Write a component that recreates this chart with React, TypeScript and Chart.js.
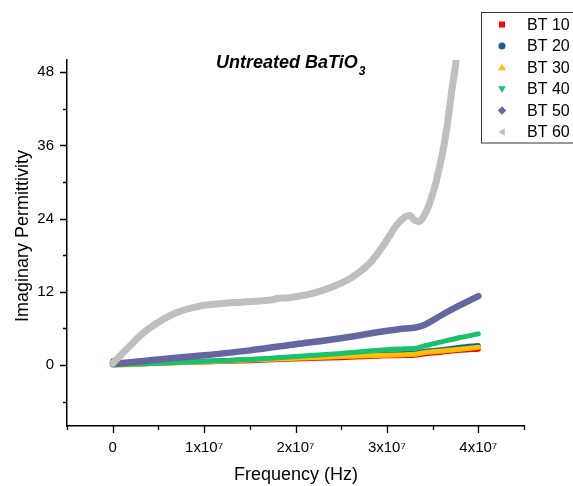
import React, { useEffect, useRef } from 'react';
import { Chart, registerables } from 'chart.js';

Chart.register(...registerables);

// ---- data (frequency in MHz, i.e. x 1e6 Hz) ----
const LOW_FREQ_MHZ = [0, 0.5, 5, 10, 15, 20, 25, 30, 32, 33, 34, 36, 38, 40];
const BT10 = [0.7, 0.1, 0.3, 0.5, 0.7, 1.0, 1.2, 1.5, 1.55, 1.6, 1.8, 2.1, 2.4, 2.6];
const BT20 = [0.1, 0.1, 0.4, 0.6, 0.9, 1.2, 1.5, 1.8, 1.9, 1.95, 2.2, 2.5, 2.9, 3.2];
const BT30 = [0.0, 0.0, 0.3, 0.5, 0.8, 1.1, 1.4, 1.6, 1.7, 1.75, 2.0, 2.3, 2.6, 2.9];
const BT40 = [0.0, 0.05, 0.3, 0.6, 0.9, 1.4, 1.9, 2.5, 2.65, 2.7, 3.1, 3.8, 4.5, 5.1];
const BT50 = [0.2, 0.25, 0.9, 1.6, 2.4, 3.4, 4.4, 5.6, 6.0, 6.1, 6.5, 8.2, 9.8, 11.3];

const BT60_FREQ_MHZ = [0, 1, 2, 3, 4, 5, 6, 7, 8, 9, 10, 12, 14, 16, 17.5, 18, 19, 20, 22, 24, 26, 28, 29, 30, 31, 32, 32.5, 33, 33.5, 34, 34.5, 35, 35.3, 35.6, 35.9, 36.2, 36.5, 36.8, 37.1, 37.4, 37.6];
const BT60 = [0.3, 1.8, 3.3, 4.8, 6.0, 7.0, 7.9, 8.6, 9.1, 9.5, 9.8, 10.1, 10.3, 10.5, 10.7, 10.9, 11.0, 11.2, 11.8, 12.8, 14.2, 16.5, 18.3, 20.5, 22.8, 24.3, 24.5, 23.8, 23.5, 24.3, 25.8, 28.0, 29.5, 31.4, 33.4, 35.6, 38.3, 41.5, 45.0, 48.0, 50.0];

const SERIES_NAMES = ['BT 10', 'BT 20', 'BT 30', 'BT 40', 'BT 50', 'BT 60'];
const SERIES_COLORS = ['#ff0000', '#1f5c99', '#ffc000', '#17c26b', '#65659f', '#bfbfbf'];
const SERIES_MARKERS = ['square', 'circle', 'triUp', 'triDown', 'diamond', 'triLeft'];

const X_MAJOR = [0, 1e7, 2e7, 3e7, 4e7];
const X_TICK_LABELS = ['0', '1x10⁷', '2x10⁷', '3x10⁷', '4x10⁷'];
const X_MINOR = [-0.5e7, 0.5e7, 1.5e7, 2.5e7, 3.5e7, 4.5e7];
const Y_MAJOR = [0, 12, 24, 36, 48];
const Y_MINOR = [-6, 6, 18, 30, 42];

const TITLE_MAIN = 'Untreated BaTiO';
const TITLE_SUB = '3';
const X_TITLE = 'Frequency (Hz)';
const Y_TITLE = 'Imaginary Permittivity';

const FONT = "'Liberation Sans', Arial, sans-serif";

function toPoints(freqMHz: number[], vals: number[]) {
  return freqMHz.map((f, i) => ({ x: f * 1e6, y: vals[i] }));
}

function drawMarker(ctx: CanvasRenderingContext2D, kind: string, x: number, y: number, r: number) {
  ctx.beginPath();
  if (kind === 'square') {
    ctx.rect(x - r * 0.85, y - r * 0.85, r * 1.7, r * 1.7);
  } else if (kind === 'circle') {
    ctx.arc(x, y, r, 0, Math.PI * 2);
  } else if (kind === 'triUp') {
    ctx.moveTo(x, y - r * 1.1);
    ctx.lineTo(x + r * 1.1, y + r * 0.8);
    ctx.lineTo(x - r * 1.1, y + r * 0.8);
  } else if (kind === 'triDown') {
    ctx.moveTo(x, y + r * 1.1);
    ctx.lineTo(x + r * 1.1, y - r * 0.8);
    ctx.lineTo(x - r * 1.1, y - r * 0.8);
  } else if (kind === 'diamond') {
    ctx.moveTo(x, y - r * 1.2);
    ctx.lineTo(x + r * 1.2, y);
    ctx.lineTo(x, y + r * 1.2);
    ctx.lineTo(x - r * 1.2, y);
  } else {
    ctx.moveTo(x - r * 1.1, y);
    ctx.lineTo(x + r * 0.8, y - r * 1.1);
    ctx.lineTo(x + r * 0.8, y + r * 1.1);
  }
  ctx.closePath();
  ctx.fill();
}

const decorPlugin = {
  id: 'decor',
  afterDraw(chart: any) {
    const ctx: CanvasRenderingContext2D = chart.ctx;
    const xs = chart.scales.x;
    const ys = chart.scales.y;
    const area = chart.chartArea;
    ctx.save();
    // ticks
    ctx.strokeStyle = '#000';
    ctx.lineWidth = 1.3;
    ctx.beginPath();
    X_MAJOR.forEach((v) => {
      const px = Math.round(xs.getPixelForValue(v)) + 0.5;
      ctx.moveTo(px, area.bottom);
      ctx.lineTo(px, area.bottom + 7);
    });
    X_MINOR.forEach((v) => {
      const px = Math.round(xs.getPixelForValue(v)) + 0.5;
      ctx.moveTo(px, area.bottom);
      ctx.lineTo(px, area.bottom + 4);
    });
    Y_MAJOR.forEach((v) => {
      const py = Math.round(ys.getPixelForValue(v)) + 0.5;
      ctx.moveTo(area.left, py);
      ctx.lineTo(area.left - 7, py);
    });
    Y_MINOR.forEach((v) => {
      const py = Math.round(ys.getPixelForValue(v)) + 0.5;
      ctx.moveTo(area.left, py);
      ctx.lineTo(area.left - 4, py);
    });
    ctx.stroke();

    // title
    ctx.fillStyle = '#000';
    ctx.textBaseline = 'alphabetic';
    ctx.textAlign = 'left';
    ctx.font = `italic bold 18px ${FONT}`;
    ctx.fillText(TITLE_MAIN, 216, 68);
    const w = ctx.measureText(TITLE_MAIN).width;
    ctx.font = `italic bold 12px ${FONT}`;
    ctx.fillText(TITLE_SUB, 216 + w + 1, 75);

    // axis titles
    ctx.font = `18px ${FONT}`;
    ctx.textAlign = 'center';
    ctx.textBaseline = 'middle';
    ctx.fillText(X_TITLE, 296, 475);
    ctx.save();
    ctx.translate(23, 236);
    ctx.rotate(-Math.PI / 2);
    ctx.fillText(Y_TITLE, 0, 0);
    ctx.restore();

    // legend
    ctx.strokeStyle = '#333';
    ctx.lineWidth = 1;
    ctx.strokeRect(481.5, 12.5, 200, 130.5);
    ctx.font = `16px ${FONT}`;
    ctx.textAlign = 'left';
    ctx.textBaseline = 'middle';
    SERIES_NAMES.forEach((name, i) => {
      const y = 24.5 + i * 21.5;
      ctx.fillStyle = SERIES_COLORS[i];
      drawMarker(ctx, SERIES_MARKERS[i], 502, y, 3.5);
      ctx.fillStyle = '#000';
      ctx.fillText(name, 527, y + 1);
    });
    ctx.restore();
  },
};

export default function App() {
  const canvasRef = useRef<HTMLCanvasElement | null>(null);
  useEffect(() => {
    const canvas = canvasRef.current;
    if (!canvas) return;
    const dataArrays = [
      toPoints(LOW_FREQ_MHZ, BT10),
      toPoints(LOW_FREQ_MHZ, BT20),
      toPoints(LOW_FREQ_MHZ, BT30),
      toPoints(LOW_FREQ_MHZ, BT40),
      toPoints(LOW_FREQ_MHZ, BT50),
      toPoints(BT60_FREQ_MHZ, BT60),
    ];
    const widths = [5, 5, 5, 5, 6.5, 7];
    const chart = new Chart(canvas, {
      type: 'scatter',
      data: {
        datasets: SERIES_NAMES.map((name, i) => ({
          label: name,
          data: dataArrays[i],
          showLine: true,
          borderColor: SERIES_COLORS[i],
          backgroundColor: SERIES_COLORS[i],
          borderWidth: widths[i],
          borderCapStyle: 'round',
          borderJoinStyle: 'round',
          cubicInterpolationMode: 'monotone',
          pointStyle: 'triangle',
          rotation: -90,
          pointRadius: (c: any) => (i === 5 && c.raw && c.raw.x >= 35e6 ? 4.5 : 0),
          pointBorderWidth: 0,
          order: SERIES_NAMES.length - i,
        })),
      },
      options: {
        responsive: false,
        animation: false,
        layout: { padding: { left: 0, top: 60, right: 49, bottom: 0 } },
        plugins: {
          legend: { display: false },
          tooltip: { enabled: false },
          title: { display: false },
        },
        scales: {
          x: {
            type: 'linear',
            min: -0.5e7,
            max: 4.5e7,
            grid: { display: false, drawTicks: false },
            border: { display: true, color: '#000', width: 1.5 },
            afterFit: (s: any) => { s.height = 60; },
            afterBuildTicks: (s: any) => { s.ticks = X_MAJOR.map((v) => ({ value: v })); },
            ticks: {
              color: '#000',
              font: { family: FONT, size: 15 },
              padding: 13,
              maxRotation: 0,
              autoSkip: false,
              callback: (v: any) => {
                const idx = X_MAJOR.indexOf(Number(v));
                return idx >= 0 ? X_TICK_LABELS[idx] : '';
              },
            },
          },
          y: {
            type: 'linear',
            min: -10,
            max: 50,
            grid: { display: false, drawTicks: false },
            border: { display: true, color: '#000', width: 1.5 },
            afterFit: (s: any) => { s.width = 67; },
            afterBuildTicks: (s: any) => { s.ticks = Y_MAJOR.map((v) => ({ value: v })); },
            ticks: {
              color: '#000',
              font: { family: FONT, size: 15 },
              padding: 13,
              autoSkip: false,
            },
          },
        },
      } as any,
      plugins: [decorPlugin],
    });
    return () => chart.destroy();
  }, []);
  return (
    <div style={{ position: 'fixed', left: 0, top: 0, width: 573, height: 486, background: '#fff' }}>
      <canvas ref={canvasRef} width={573} height={486} />
    </div>
  );
}
